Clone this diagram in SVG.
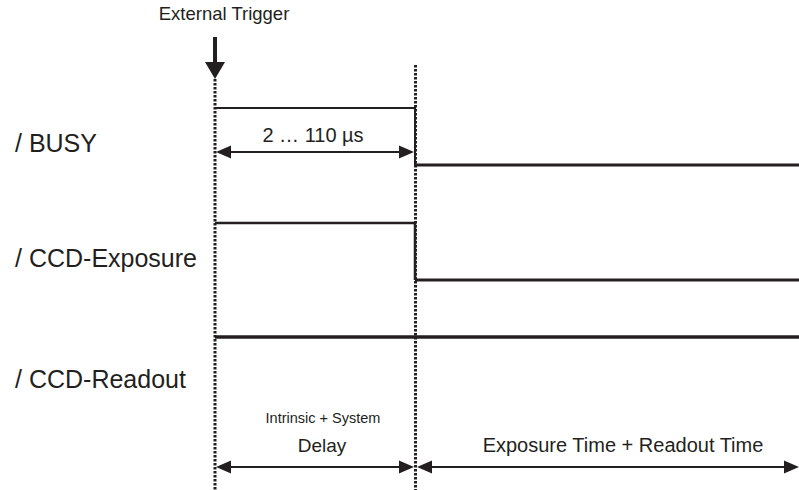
<svg xmlns="http://www.w3.org/2000/svg" width="799" height="490" viewBox="0 0 799 490">
<defs>
<style>
.t{font-family:"Liberation Sans",Arial,sans-serif;fill:#231f20}
.sig{stroke:#231f20;fill:none;stroke-linecap:butt;stroke-linejoin:miter}
.dot{stroke:#231f20;stroke-width:3;stroke-dasharray:2.5 1.5;fill:none}
.dim{stroke:#231f20;stroke-width:2;fill:none}
.ah{fill:#231f20}
</style>
</defs>
<rect width="799" height="490" fill="#ffffff"/>
<g id="labels">
<text class="t" x="224" y="20" font-size="18.5" text-anchor="middle">External Trigger</text>
<text class="t" x="15" y="152" font-size="25">/ BUSY</text>
<text class="t" x="15" y="267" font-size="25">/ CCD-Exposure</text>
<text class="t" x="15" y="388" font-size="25">/ CCD-Readout</text>
</g>
<g id="trigger">
<rect x="213" y="37" width="4" height="26" fill="#231f20"/>
<polygon class="ah" points="205,62 225,62 215,79"/>
</g>
<g id="connectors">
<line class="dot" x1="215" y1="79" x2="215" y2="490"/>
<line class="dot" x1="415.5" y1="65" x2="415.5" y2="490"/>
</g>
<g id="busy">
<polyline class="sig" stroke-width="2" points="215,108 415,108 415,165"/>
<line class="sig" stroke-width="3" x1="415" y1="165" x2="799" y2="165"/>
</g>
<g id="ccd-exposure">
<polyline class="sig" stroke-width="2.5" points="215,223 415,223 415,280"/>
<line class="sig" stroke-width="3" x1="415" y1="280" x2="799" y2="280"/>
</g>
<g id="ccd-readout">
<line class="sig" stroke-width="3.5" x1="215" y1="337" x2="799" y2="337"/>
</g>
<g id="dim-busy">
<line class="dim" x1="225" y1="152" x2="405" y2="152"/>
<polygon class="ah" points="216,152 231,145.5 231,158.5"/>
<polygon class="ah" points="414,152 399,145.5 399,158.5"/>
<text class="t" x="313" y="142" font-size="20" text-anchor="middle">2 … 110 µs</text>
</g>
<g id="dim-delay">
<line class="dim" x1="225" y1="467" x2="405" y2="467"/>
<polygon class="ah" points="216,467 231,460.5 231,473.5"/>
<polygon class="ah" points="414,467 399,460.5 399,473.5"/>
<text class="t" x="323" y="423" font-size="14.5" text-anchor="middle">Intrinsic + System</text>
<text class="t" x="322" y="452" font-size="19" text-anchor="middle">Delay</text>
</g>
<g id="dim-exposure">
<line class="dim" x1="425" y1="467" x2="790" y2="467"/>
<polygon class="ah" points="417,467 432,460.5 432,473.5"/>
<polygon class="ah" points="799,467 784,460.5 784,473.5"/>
<text class="t" x="623" y="452" font-size="20" text-anchor="middle">Exposure Time + Readout Time</text>
</g>
</svg>
